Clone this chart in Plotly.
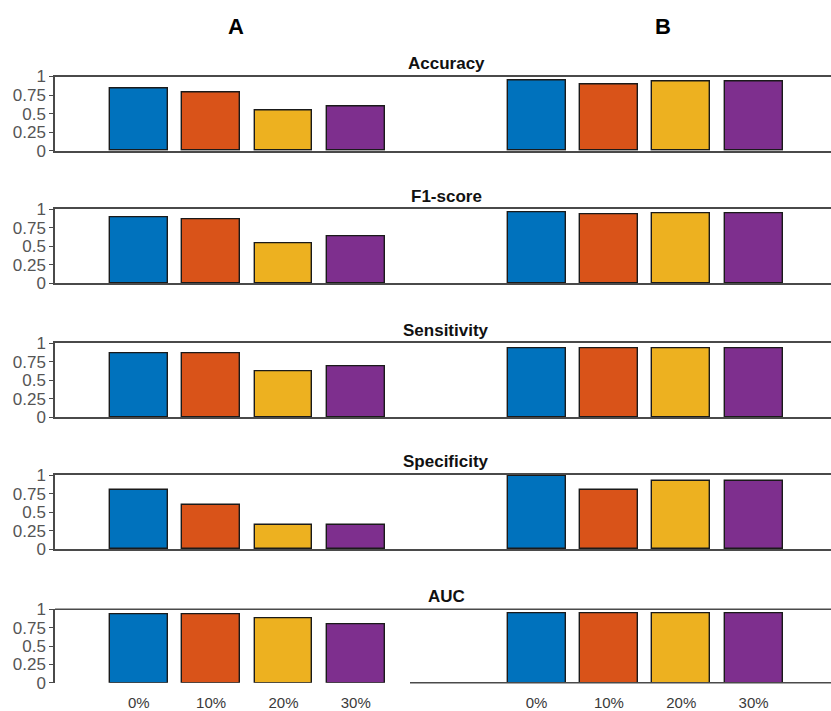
import plotly.graph_objects as go
import numpy as np

# ---------------- data ----------------
categories = ["0%", "10%", "20%", "30%"]
metrics = ["Accuracy", "F1-score", "Sensitivity", "Specificity", "AUC"]
panels = ["A", "B"]

accuracy_a = [0.843, 0.789, 0.540, 0.600]
accuracy_b = [0.951, 0.892, 0.928, 0.928]
f1_a = [0.886, 0.860, 0.545, 0.640]
f1_b = [0.963, 0.932, 0.950, 0.950]
sensitivity_a = [0.859, 0.859, 0.620, 0.692]
sensitivity_b = [0.932, 0.932, 0.932, 0.932]
specificity_a = [0.794, 0.592, 0.327, 0.327]
specificity_b = [0.990, 0.794, 0.923, 0.923]
auc_a = [0.932, 0.926, 0.880, 0.795]
auc_b = [0.945, 0.945, 0.945, 0.945]

y_tick_vals = [0, 0.25, 0.5, 0.75, 1]
y_tick_text = ["0", "0.25", "0.5", "0.75", "1"]

colors = ["#0072BD", "#D95319", "#EDB120", "#7E2F8E"]

rows_a = [accuracy_a, f1_a, sensitivity_a, specificity_a, auc_a]
rows_b = [accuracy_b, f1_b, sensitivity_b, specificity_b, auc_b]

# ---------------- layout helpers ----------------
W, H = 831, 711
ML = 55
pos_a = np.arange(1, 5, dtype=float)
pos_b = pos_a + 5.5
unit_px = 72.33
x_left = 1 - (138.8 - ML) / unit_px
x_right = 1 + (W - 138.8) / unit_px

row_px = [(76.5, 150.7), (209.3, 283.3), (343.3, 417.2), (475.0, 549.3), (609.3, 682.8)]


def px_x(p):
    return (p - ML) / (W - ML)


FONT = "Liberation Sans, Arial, Helvetica, sans-serif"
AX = "#4a4a4a"

fig = go.Figure()
annotations = []
shapes = []

for i, (metric, va, vb) in enumerate(zip(metrics, rows_a, rows_b)):
    n = i + 1
    xa = "x" if n == 1 else f"x{n}"
    ya = "y" if n == 1 else f"y{n}"
    for pos, vals in ((pos_a, va), (pos_b, vb)):
        fig.add_trace(go.Bar(
            x=pos, y=vals, width=0.8,
            marker=dict(color=colors, line=dict(color="#1a1a1a", width=1.4)),
            xaxis=xa, yaxis=ya, showlegend=False,
        ))
    top, base = row_px[i]
    dom = [1 - base / H, 1 - top / H]
    last = (n == len(metrics))
    xkey = "xaxis" if n == 1 else f"xaxis{n}"
    ykey = "yaxis" if n == 1 else f"yaxis{n}"
    fig.update_layout(**{
        xkey: dict(
            domain=[0, 1], range=[x_left, x_right], anchor=ya,
            showline=not last, mirror=True if not last else False,
            linecolor=AX, linewidth=1.5,
            showgrid=False, zeroline=False, ticks="",
            tickvals=list(pos_a) + list(pos_b) if last else [],
            ticktext=categories + categories if last else [],
            showticklabels=last,
            tickfont=dict(family=FONT, size=15, color="#3a3a3a"),
            ticklabelstandoff=9,
            automargin=False,
            fixedrange=True,
        ),
        ykey: dict(
            domain=dom, range=[0, 1], anchor=xa,
            showline=True, linecolor=AX, linewidth=1.5,
            showgrid=False, zeroline=False,
            ticks="outside", ticklen=4, tickcolor=AX, tickwidth=1.2,
            tickvals=y_tick_vals, ticktext=y_tick_text,
            tickfont=dict(family=FONT, size=17, color="#555555"),
            ticklabelstandoff=0,
            automargin=False,
            fixedrange=True,
        ),
    })
    annotations.append(dict(
        text=f"<b>{metric}</b>", x=px_x(446), y=1 - (top - 13) / H,
        xref="paper", yref="paper", xanchor="center", yanchor="middle",
        showarrow=False, font=dict(family=FONT, size=17, color="#111111"),
    ))
    if last:
        shapes.append(dict(type="line", xref=f"{xa} domain", yref=f"{ya} domain",
                           x0=0, x1=1, y0=1, y1=1, line=dict(color=AX, width=1.5)))
        shapes.append(dict(type="line", xref=f"{xa} domain", yref=f"{ya} domain",
                           x0=px_x(410), x1=1, y0=0, y1=0,
                           line=dict(color=AX, width=1.5)))

for label, cx in zip(panels, (236, 663)):
    annotations.append(dict(
        text=f"<b>{label}</b>", x=px_x(cx), y=1 - 27 / H,
        xref="paper", yref="paper", xanchor="center", yanchor="middle",
        showarrow=False, font=dict(family=FONT, size=22, color="#000000"),
    ))

fig.update_layout(
    width=W, height=H, autosize=False,
    margin=dict(l=ML, r=0, t=0, b=0, pad=0, autoexpand=False),
    paper_bgcolor="white", plot_bgcolor="white",
    bargap=0, annotations=annotations, shapes=shapes,
    font=dict(family=FONT),
)

fig.write_html(
    "out.html",
    config={"displayModeBar": False},
    post_script="document.body.style.margin='0';document.body.style.overflow='hidden';",
)
